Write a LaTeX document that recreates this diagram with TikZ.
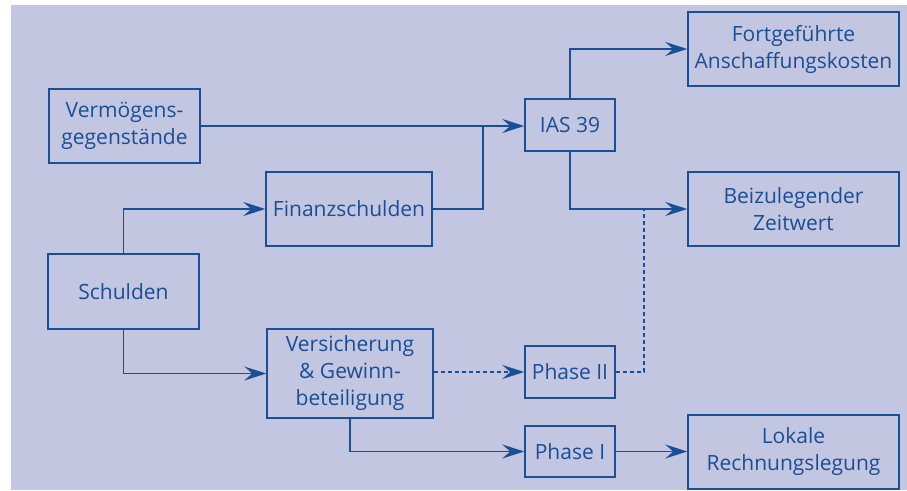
\documentclass[tikz,border=0pt]{standalone}
\usepackage{fontspec}
\setmainfont{Open Sans}
\usetikzlibrary{arrows.meta}
\definecolor{bg}{RGB}{194,198,224}
\definecolor{ink}{RGB}{26,78,150}
\tikzstyle{box}=[draw=ink, text=ink, shape=rectangle, line width=1.5pt, align=center, inner sep=0pt, font=\fontsize{21}{27}\selectfont]
\tikzstyle{lbox}=[style=box, minimum width=151pt, minimum height=74pt]
\tikzstyle{mbox}=[style=box, minimum width=166pt, minimum height=74pt]
\tikzstyle{sbox}=[style=box, minimum width=90pt, minimum height=52pt]
\tikzstyle{wbox}=[style=box, minimum width=211pt, minimum height=74pt]
\tikzstyle{link}=[draw=ink, line width=1.5pt]
\tikzstyle{arr}=[style=link, -{Stealth[length=22pt, width=14pt, inset=8pt]}]
\tikzstyle{dsh}=[style=link, line width=1.3pt, dash pattern=on 4pt off 3pt]

\begin{document}
\begin{tikzpicture}[x=1pt, y=-1pt]
		\useasboundingbox (0,0) rectangle (907,490);
		\fill[bg] (11,5) rectangle (907,490);

		\node [style=lbox] (1) at (124.5, 126) {Vermögens-\\gegenstände};
		\node [style=mbox] (2) at (349, 209) {Finanzschulden};
		\node [style=lbox, minimum height=75pt] (3) at (123.5, 291.5) {Schulden};
		\node [style=mbox, minimum height=89pt] (4) at (350, 373.5) {Versicherung\\\& Gewinn-\\beteiligung};

		\node [style=sbox] (5) at (570, 125) {IAS 39};
		\node [style=sbox] (6) at (570, 372) {Phase II};
		\node [style=sbox, minimum height=51pt] (7) at (570, 451.5) {Phase I};

		\node [style=wbox] (8) at (793.5, 49) {Fortgeführte\\Anschaffungskosten};
		\node [style=wbox] (9) at (793.5, 209) {Beizulegender\\Zeitwert};
		\node [style=wbox] (10) at (793.5, 452) {Lokale\\Rechnungslegung};

		\coordinate (11) at (483, 125);
		\coordinate (12) at (644, 209);

		\draw [style=arr] (1.east) -- (1.east -| 5.west);
		\draw [style=link] (2.east) -| (11);
		\draw [style=arr] (3.north) |- (2.west);
		\draw [style=arr] (3.south) |- (4.west);
		\draw [style=arr] (5.north) |- (8.west);
		\draw [style=arr] (5.south) |- (9.west);
		\draw [style=dsh, -{Stealth[length=22pt, width=14pt, inset=8pt]}] (4.east |- 6.west) -- (6.west);
		\draw [style=dsh] (6.east) -| (12);
		\draw [style=arr] (4.south) |- (7.west);
		\draw [style=arr] (7.east) -- (7.east -| 10.west);
	\end{tikzpicture}
\end{document}
